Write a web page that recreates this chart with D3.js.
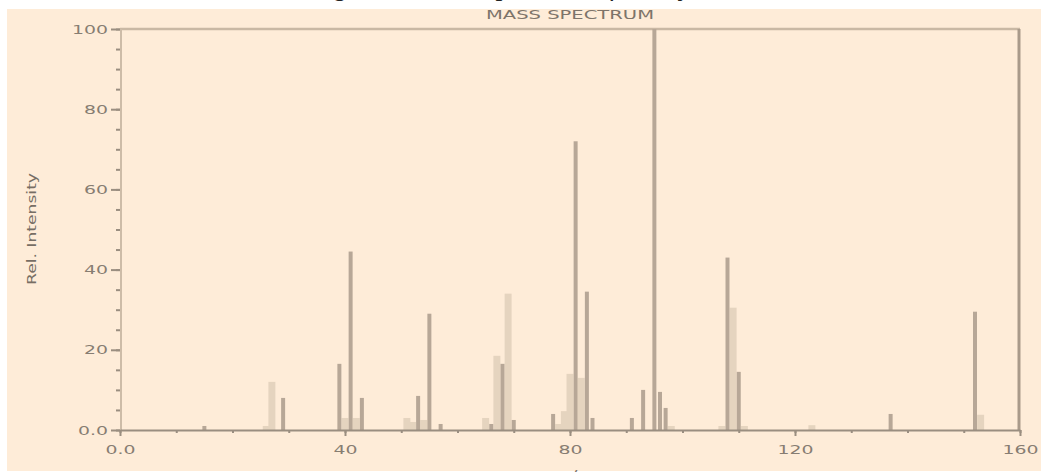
<!DOCTYPE html>
<html>
<head>
<meta charset="utf-8">
<script src="https://cdn.jsdelivr.net/npm/d3@7"></script>
<style>
  html, body { margin: 0; padding: 0; background: #ffffff; }
  svg { display: block; }
  text { font-family: 'DejaVu Sans', sans-serif; }
</style>
</head>
<body>
<div id="chart"></div>
<script>
// m/z peaks (sharp bars)
const mzSharp  = [15, 29, 39, 41, 43, 53, 55, 57, 66, 68, 70, 77, 81, 83, 84, 91, 93, 95, 96, 97, 108, 110, 137, 152]
const intSharp = [1, 8, 16.5, 44.5, 8, 8.5, 29, 1.5, 1.5, 16.5, 2.5, 4, 72, 34.5, 3, 3, 10, 100, 9.5, 5.5, 43, 14.5, 4, 29.5]
// blurred / lighter bars
const mzSoft  = [26, 27, 40, 42, 51, 52, 54, 65, 67, 69, 78, 79, 80, 82, 98, 107, 109, 111, 123, 153]
const intSoft = [1, 12, 3, 3, 3, 2, 2.5, 3, 18.5, 34, 1.5, 4.7, 14, 13, 1, 1, 30.5, 1, 1.2, 3.8]

const xMajor = [0, 40, 80, 120, 160]
const xMinor = d3.range(0, 161, 10)
const yMajor = [0, 20, 40, 60, 80, 100]
const yMinor = d3.range(0, 101, 5)
const yTickText = ['0.0', '20', '40', '60', '80', '100']
const xTickText = ['0.0', '40', '80', '120', '160']

const width = 1041, height = 472
const colors = { bg: '#feecd8', sharp: '#b7a797', soft: '#e5d4bf', axis: '#9a8e80', text: '#877d72', frame: '#c9b8a4' }

const svg = d3.select('#chart').append('svg')
  .attr('width', width)
  .attr('height', height)

// caption above the chart, clipped so only its descenders show
svg.append('text')
  .attr('x', 560)
  .attr('y', -5)
  .attr('text-anchor', 'middle')
  .style('font-family', "'Liberation Serif', serif")
  .style('font-style', 'italic')
  .style('font-size', '28px')
  .attr('fill', '#222')
  .text('Figure 3. Mass spectrum of the hydrocarbon')

svg.append('rect')
  .attr('x', 7).attr('y', 9)
  .attr('width', width - 7).attr('height', 462)
  .attr('fill', colors.bg)

const x = d3.scaleLinear().domain([0, 160]).range([120, 1020])
const y = d3.scaleLinear().domain([0, 100]).range([430, 29])

const sx = 1.45 // the picture is stretched sideways

// frame: top and right
svg.append('line')
  .attr('x1', x(0)).attr('x2', x(160))
  .attr('y1', y(100)).attr('y2', y(100))
  .attr('stroke', colors.frame).attr('stroke-width', 2.5)
svg.append('line')
  .attr('x1', x(160) - 1).attr('x2', x(160) - 1)
  .attr('y1', y(100)).attr('y2', y(0))
  .attr('stroke', '#a99a8a').attr('stroke-width', 3)

// bars
const soft = mzSoft.map((m, i) => ({ mz: m, v: intSoft[i] }))
const sharp = mzSharp.map((m, i) => ({ mz: m, v: intSharp[i] }))

svg.append('g').selectAll('rect')
  .data(soft)
  .enter()
  .append('rect')
  .attr('x', d => x(d.mz) - 3.5)
  .attr('y', d => y(d.v))
  .attr('width', 7)
  .attr('height', d => y(0) - y(d.v))
  .attr('fill', colors.soft)

svg.append('g').selectAll('rect')
  .data(sharp)
  .enter()
  .append('rect')
  .attr('x', d => x(d.mz) - 2)
  .attr('y', d => y(d.v))
  .attr('width', 4)
  .attr('height', d => y(0) - y(d.v))
  .attr('fill', colors.sharp)

// left axis line (faint)
svg.append('line')
  .attr('x1', x(0) + 1).attr('x2', x(0) + 1)
  .attr('y1', y(100)).attr('y2', y(0))
  .attr('stroke', '#cdbca8').attr('stroke-width', 2)

// x axis
const xMinorAxis = svg.append('g')
  .attr('transform', 'translate(0,' + y(0) + ')')
  .call(d3.axisBottom(x).tickValues(xMinor).tickSize(3).tickSizeOuter(0).tickFormat(''))
xMinorAxis.select('.domain').attr('stroke', colors.axis).attr('stroke-width', 2)
xMinorAxis.selectAll('.tick line').attr('stroke', colors.axis).attr('stroke-width', 2)

const xAxis = svg.append('g')
  .attr('transform', 'translate(0,' + y(0) + ')')
  .call(d3.axisBottom(x).tickValues(xMajor).tickSize(6).tickSizeOuter(0)
    .tickFormat((d, i) => xTickText[i]))
xAxis.select('.domain').remove()
xAxis.selectAll('.tick line').attr('stroke', colors.axis).attr('stroke-width', 2)
xAxis.selectAll('.tick text')
  .attr('y', 15)
  .attr('dy', '0.71em')
  .attr('transform', 'scale(' + sx + ',1)')
  .attr('fill', colors.text)
  .style('font-size', '13px')

// y axis
const yMinorAxis = svg.append('g')
  .attr('transform', 'translate(' + x(0) + ',0)')
  .call(d3.axisLeft(y).tickValues(yMinor).tickSize(4).tickSizeOuter(0).tickFormat(''))
yMinorAxis.select('.domain').remove()
yMinorAxis.selectAll('.tick line').attr('stroke', colors.axis).attr('stroke-width', 2)

const yAxis = svg.append('g')
  .attr('transform', 'translate(' + x(0) + ',0)')
  .call(d3.axisLeft(y).tickValues(yMajor).tickSize(9).tickSizeOuter(0)
    .tickFormat((d, i) => yTickText[i]))
yAxis.select('.domain').remove()
yAxis.selectAll('.tick line').attr('stroke', colors.axis).attr('stroke-width', 2)
yAxis.selectAll('.tick text')
  .attr('x', -12)
  .attr('transform', 'translate(-12,0) scale(' + sx + ',1) translate(12,0)')
  .attr('fill', colors.text)
  .style('font-size', '13px')

// titles
svg.append('text')
  .attr('x', 570)
  .attr('y', 19)
  .attr('text-anchor', 'middle')
  .attr('fill', '#7d746a')
  .style('font-size', '13px')
  .attr('textLength', 168)
  .attr('lengthAdjust', 'spacingAndGlyphs')
  .text('MASS SPECTRUM')

svg.append('text')
  .attr('transform', 'translate(36,229) rotate(-90)')
  .attr('text-anchor', 'middle')
  .attr('fill', '#776e64')
  .style('font-size', '13px')
  .attr('textLength', 112)
  .attr('lengthAdjust', 'spacingAndGlyphs')
  .text('Rel. Intensity')

// x title sits at the bottom edge, cut off as in the picture
svg.append('text')
  .attr('x', 570)
  .attr('y', 479)
  .attr('text-anchor', 'middle')
  .attr('fill', '#7d746a')
  .style('font-size', '13px')
  .attr('transform', 'translate(570,0) scale(' + sx + ',1) translate(-570,0)')
  .text('m/z')
</script>
</body>
</html>
